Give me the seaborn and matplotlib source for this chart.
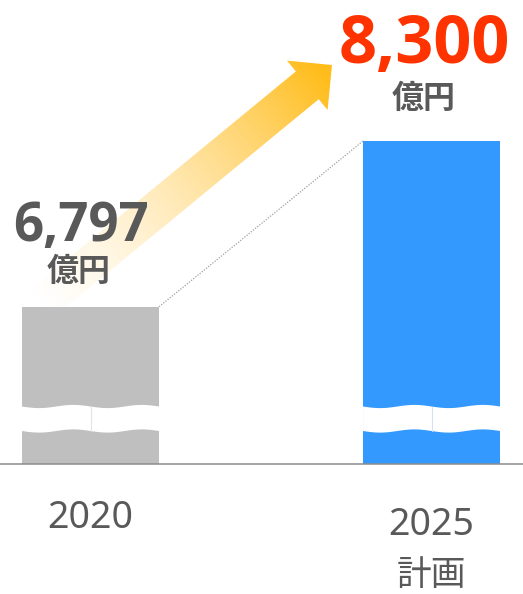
import numpy as np
import pandas as pd
import matplotlib
matplotlib.use("Agg")
import matplotlib.pyplot as plt
import seaborn as sns
from matplotlib import transforms as mtransforms
from matplotlib.patches import Polygon
from matplotlib import font_manager as fm

# ---- data ----
categories = ["2020", "2025\n計画"]
values = [6797, 8300]
value_labels = ["6,797", "8,300"]
unit_label = "億円"

# ---- styles ----
bar_colors = ["#BFBFBF", "#3399FF"]
value_colors = ["#595959", "#FF3300"]
band_line_colors = ["#e4e4e4", "#cfe2f8"]
text_gray = "#595959"

sns.set_theme(style="white")
plt.rcParams["font.family"] = ["Noto Sans", "Noto Sans CJK JP", "DejaVu Sans"]


def pick_bold(cands):
    for fam in cands:
        try:
            f = fm.findfont(fm.FontProperties(family=fam, weight="bold"), fallback_to_default=False)
        except Exception:
            continue
        name = f.lower()
        if "bold" in name or "black" in name or "heavy" in name:
            return fam
    return "DejaVu Sans"


BOLD_FAM = pick_bold(["Noto Sans", "Open Sans", "Lato", "Roboto", "Inter", "DejaVu Sans"])
scale = 0.86 if BOLD_FAM == "DejaVu Sans" else 1.0

W, H = 523, 594
fig = plt.figure(figsize=(W / 100, H / 100), dpi=100)
fig.patch.set_facecolor("white")
px = mtransforms.Affine2D().scale(1 / W, -1 / H).translate(0, 1) + fig.transFigure

bg = fig.add_axes([0, 0, 1, 1], zorder=0)
bg.set_xlim(0, W)
bg.set_ylim(H, 0)
bg.axis("off")

ax = fig.add_axes([0, (H - 464) / H, 1, 464 / H], zorder=1)
ax.patch.set_alpha(0)

df = pd.DataFrame({"cat": categories, "val": values})
sns.barplot(data=df, x="cat", y="val", hue="cat", palette=bar_colors,
            saturation=1, width=0.402, legend=False, ax=ax, linewidth=0)

ax.set_xlim(-0.2654, 1.268)
ax.set_ylim(5370, 9579)
ax.set_xticks([])
ax.set_yticks([])
ax.set_xlabel("")
ax.set_ylabel("")
for s in ["top", "left", "right"]:
    ax.spines[s].set_visible(False)
ax.spines["bottom"].set_color("#8c8c8c")
ax.spines["bottom"].set_linewidth(1.1)

bars = sorted(ax.patches, key=lambda p: p.get_x())
blend = mtransforms.blended_transform_factory(ax.transData, px)

# ---- axis-break wavy bands ----
for i, b in enumerate(bars):
    x0, w = b.get_x(), b.get_width()
    xs = np.linspace(x0, x0 + w, 300)
    t = (xs - x0) / (w / 2)
    top = 406.5 + 1.6 * np.sin(2 * np.pi * t)
    bot = 431.0 + 1.6 * np.sin(2 * np.pi * t)
    verts = np.column_stack([np.r_[xs, xs[::-1]], np.r_[top, bot[::-1]]])
    ax.add_patch(Polygon(verts, closed=True, facecolor="white", edgecolor="none",
                         transform=blend, zorder=3))
    xm = x0 + w / 2
    ax.plot([xm, xm], [406.5, 431], color=band_line_colors[i], lw=0.8,
            transform=blend, zorder=4)

# ---- dotted connector ----
ax.plot([bars[0].get_x() + bars[0].get_width(), bars[1].get_x()],
        [values[0], values[1]], ls=(0, (1, 1.2)), color="#a0a0a0", lw=0.9, zorder=4)

# ---- value labels ----
val_offsets = [(-9.5, 66), (-7.5, 78)]
val_sizes = [38 * scale, 48 * scale]
unit_offsets = [(-12, 26), (-8, 33)]
for i in range(len(values)):
    ax.annotate(value_labels[i], xy=(i, values[i]), xytext=val_offsets[i],
                textcoords="offset pixels", ha="center", va="baseline",
                fontsize=val_sizes[i], fontweight="bold", color=value_colors[i],
                family=[BOLD_FAM, "DejaVu Sans"], zorder=5)
    ax.annotate(unit_label, xy=(i, values[i]), xytext=unit_offsets[i],
                textcoords="offset pixels", ha="center", va="baseline",
                fontsize=23, fontweight="bold", color=text_gray,
                family=["Noto Sans CJK JP", "DejaVu Sans"], zorder=5)

# ---- category labels ----
line_baselines = [[528], [535, 585]]
line_sizes = [27, 25]
for i, lab in enumerate(categories):
    for k, (line, yb) in enumerate(zip(lab.split("\n"), line_baselines[i])):
        ax.text(i, yb, line, transform=blend, ha="center", va="baseline",
                fontsize=line_sizes[k], color=text_gray,
                family=["Noto Sans", "Noto Sans CJK JP", "DejaVu Sans"], clip_on=False)

# ---- gradient arrow (decoration) ----
T = np.array([40.0, 305.0])
P = np.array([332.0, 65.0])
L = np.linalg.norm(P - T)
u = (P - T) / L
n = np.array([-u[1], u[0]])
hl, hw, sw = 32, 32, 18
B = P - hl * u
poly = np.array([T + sw * n, B + sw * n, B + hw * n, P, B - hw * n, B - sw * n, T - sw * n])
patch = Polygon(poly, closed=True, facecolor="none", edgecolor="none")
bg.add_patch(patch)
xmin, ymin = poly.min(axis=0) - 2
xmax, ymax = poly.max(axis=0) + 2
gx, gy = np.meshgrid(np.linspace(xmin, xmax, 400), np.linspace(ymin, ymax, 400))
tt = np.clip(((gx - T[0]) * u[0] + (gy - T[1]) * u[1]) / L, 0, 1)
img = np.zeros(gx.shape + (4,))
img[..., 0] = 1.0
img[..., 1] = 0.86 - 0.12 * tt
img[..., 2] = 0.55 - 0.45 * tt
img[..., 3] = np.clip(tt * 1.05, 0, 1) ** 1.1
im = bg.imshow(img, extent=(xmin, xmax, ymax, ymin), origin="upper",
               interpolation="bilinear", zorder=1)
im.set_clip_path(patch)
bg.set_xlim(0, W)
bg.set_ylim(H, 0)

fig.savefig("out.png", dpi=100, facecolor="white")
